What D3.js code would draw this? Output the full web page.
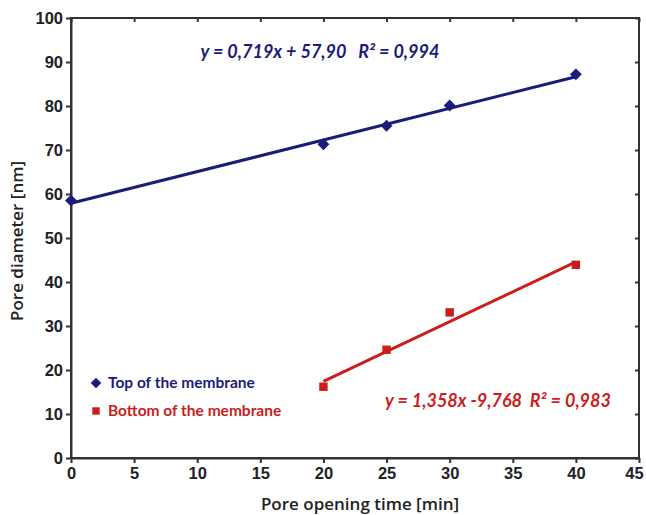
<!DOCTYPE html>
<html lang="en">
<head>
    <meta charset="UTF-8">
    <title>Pore diameter vs pore opening time</title>
    <script src="https://cdn.jsdelivr.net/npm/d3@7"></script>
    <style>
        body { margin: 0; padding: 0; background: #fff; }
        svg { display: block; font-family: Lato, "Open Sans", sans-serif; }
        .axis path, .axis line { stroke: #333; stroke-width: 2px; }
        .axis text { font-size: 16.5px; font-weight: bold; fill: #222; }
        .title { font-family: "Open Sans", sans-serif; font-size: 17px; font-weight: 600; fill: #222; }
    </style>
</head>
<body>
<div id="chart"></div>
<script>
    const width = 646;
    const height = 515;
    const margin = { top: 18, right: 7, bottom: 57, left: 71 };

    const xTicks = [0, 5, 10, 15, 20, 25, 30, 35, 40, 45];
    const yTicks = [0, 10, 20, 30, 40, 50, 60, 70, 80, 90, 100];

    // Top of the membrane
    const topTimes = [0, 20, 25, 30, 40];
    const topDiam = [58.5, 71.3, 75.5, 80.1, 87.2];
    const topFit = { slope: 0.719, intercept: 57.90, from: 0, to: 40 };

    // Bottom of the membrane
    const botTimes = [20, 25, 30, 40];
    const botDiam = [16.2, 24.6, 33.1, 43.9];
    const botFit = { slope: 1.358, intercept: -9.768, from: 20, to: 40 };

    const blue = "#1b1b7c";
    const red = "#cc1d1d";

    const svg = d3.select("#chart").append("svg")
        .attr("width", width)
        .attr("height", height);

    const x = d3.scaleLinear().domain([0, 45]).range([margin.left, width - margin.right]);
    const y = d3.scaleLinear().domain([0, 100]).range([height - margin.bottom, margin.top]);

    // frame ticks (mirrored, inside)
    svg.append("g").attr("class", "axis")
        .attr("transform", `translate(0,${margin.top})`)
        .call(d3.axisTop(x).tickValues(xTicks).tickSize(-4).tickFormat(""))
        .call(g => g.select(".domain").remove());
    svg.append("g").attr("class", "axis")
        .attr("transform", `translate(${width - margin.right},0)`)
        .call(d3.axisRight(y).tickValues(yTicks).tickSize(-4).tickFormat(""))
        .call(g => g.select(".domain").remove());

    svg.append("rect")
        .attr("x", margin.left).attr("y", margin.top)
        .attr("width", width - margin.left - margin.right)
        .attr("height", height - margin.top - margin.bottom)
        .attr("fill", "none").attr("stroke", "#333").attr("stroke-width", 2);

    svg.append("g").attr("class", "axis")
        .attr("transform", `translate(0,${height - margin.bottom})`)
        .call(d3.axisBottom(x).tickValues(xTicks).tickSize(5).tickSizeOuter(0).tickPadding(4))
        .call(g => g.selectAll(".tick text").filter(d => d === 45).attr("dx", -5));

    svg.append("g").attr("class", "axis")
        .attr("transform", `translate(${margin.left},0)`)
        .call(d3.axisLeft(y).tickValues(yTicks).tickSize(5).tickSizeOuter(0).tickPadding(3));

    // axis titles
    svg.append("text").attr("class", "title")
        .attr("x", 360)
        .attr("y", 510)
        .attr("text-anchor", "middle")
        .text("Pore opening time [min]");
    svg.append("text").attr("class", "title")
        .attr("transform", `translate(23,241) rotate(-90)`)
        .attr("text-anchor", "middle")
        .text("Pore diameter [nm]");

    function drawSeries(times, vals, fit, color, symbol, size) {
        svg.append("line")
            .attr("x1", x(fit.from)).attr("y1", y(fit.slope * fit.from + fit.intercept))
            .attr("x2", x(fit.to)).attr("y2", y(fit.slope * fit.to + fit.intercept))
            .attr("stroke", color).attr("stroke-width", 3);
        svg.selectAll(null)
            .data(times.map((t, i) => [t, vals[i]]))
            .enter().append("path")
            .attr("transform", d => `translate(${x(d[0])},${y(d[1])})`)
            .attr("d", d3.symbol().type(symbol).size(size))
            .attr("fill", color);
    }

    drawSeries(topTimes, topDiam, topFit, blue, d3.symbolDiamond2, 90);
    drawSeries(botTimes, botDiam, botFit, red, d3.symbolSquare2, 90);

    // equations
    svg.append("text")
        .attr("x", 320).attr("y", 58)
        .attr("text-anchor", "middle")
        .attr("font-size", 18).attr("font-weight", "bold").attr("font-style", "italic")
        .attr("fill", blue).attr("xml:space", "preserve")
        .text("y = 0,719x + 57,90   R² = 0,994");
    svg.append("text")
        .attr("x", 498).attr("y", 407)
        .attr("text-anchor", "middle")
        .attr("font-size", 18).attr("font-weight", "bold").attr("font-style", "italic")
        .attr("fill", red).attr("xml:space", "preserve")
        .text("y = 1,358x -9,768  R² = 0,983");

    // legend
    const legend = [
        { label: "Top of the membrane", color: blue, symbol: d3.symbolDiamond2 },
        { label: "Bottom of the membrane", color: red, symbol: d3.symbolSquare2 }
    ];
    legend.forEach((d, i) => {
        const ly = 383 + i * 28;
        svg.append("path")
            .attr("transform", `translate(96,${ly})`)
            .attr("d", d3.symbol().type(d.symbol).size(70))
            .attr("fill", d.color);
        svg.append("text")
            .attr("x", 108).attr("y", ly + 5)
            .attr("font-size", 15.5).attr("font-weight", "bold")
            .attr("fill", d.color)
            .text(d.label);
    });
</script>
</body>
</html>
